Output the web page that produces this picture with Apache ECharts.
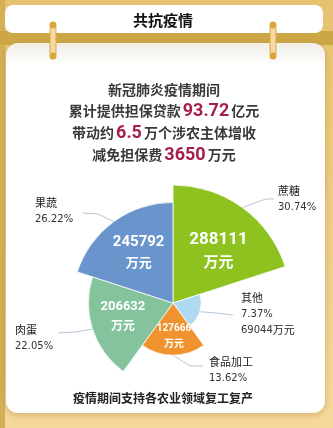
<!DOCTYPE html>
<html><head><meta charset="utf-8">
<script src="https://cdn.jsdelivr.net/npm/echarts@6/dist/echarts.min.js"></script>
<style>html,body{margin:0;padding:0;background:#EBC777;}#c{width:333px;height:428px;}</style>
</head><body><div id="c"></div>
<script>
const categories = ['蔗糖', '其他', '食品加工', '肉蛋', '果蔬'];
const values = [288111, 69044, 127666, 206632, 245792];
const percents = ['30.74%', '7.37%', '13.62%', '22.05%', '26.22%'];
const headlineNumbers = ['93.72', '6.5', '3650'];
const titleText = '共抗疫情';
const footText = '疫情期间支持各农业领域复工复产';

const colors = ['#8DC21F', '#AED9F0', '#F0922E', '#84C39C', '#6A95CC'];
const CJK = '"Noto Sans CJK SC", sans-serif';
// outside label boxes (top-left) and label-line elbows
const outerPos = [[278, 183], [241, 290], [209, 354], [15, 322], [35, 195]];
const elbows = [
  [[266, 199], [274, 199]],
  [[216, 313], [233, 315]],
  [[190, 366], [203, 366]],
  [[75, 332], [58, 333]],
  [[98, 214], [83, 213]]
];
const innerFont = [[17, 15], [0, 0], [10, 10], [13, 12], [15, 13]];
const innerShift = [[9, -3], [0, 0], [1, 4], [-7, -1], [-3, -8]];

const chart = echarts.init(document.getElementById('c'), null, {renderer: 'canvas'});

const pin = (x) => ([
  {type: 'rect', shape: {x: x - 3, y: 25, width: 6, height: 31, r: 3}, style: {fill: '#F6D9A6', stroke: '#D9A93A', lineWidth: 1}, z: 1},
  {type: 'circle', shape: {cx: x, cy: 25, r: 3.5}, style: {fill: '#D9A637'}, z: 2},
  {type: 'circle', shape: {cx: x, cy: 56, r: 3.5}, style: {fill: '#D9A637'}, z: 2}
]);

const headRich = {
  n: {fontFamily: 'Roboto, sans-serif', fontWeight: 'bold', fontSize: 18, fill: '#A61E4D', padding: [0, 2]}
};
const headStyle = (text, y) => ({
  type: 'text', x: 164, y: y, z: 3,
  style: {text: text, align: 'center', verticalAlign: 'middle', fontFamily: CJK, fontSize: 14, fontWeight: 'bold', fill: '#3a3a3a', rich: headRich}
});

const option = {
  animation: false,
  graphic: [
    {type: 'rect', shape: {x: 0, y: 0, width: 333, height: 428},
      style: {fill: new echarts.graphic.LinearGradient(0, 0, 0, 1, [{offset: 0, color: '#E6C170'}, {offset: 1, color: '#F6D89C'}])}, z: -10},
    {type: 'rect', shape: {x: 0, y: 0, width: 5, height: 428}, style: {fill: '#D4AF55'}, z: -9},
    {type: 'rect', shape: {x: 0, y: 31, width: 333, height: 14}, style: {fill: '#CBA746'}, z: -9},
    {type: 'rect', shape: {x: 5, y: 5, width: 318, height: 28, r: 8}, style: {fill: '#FFFFFF'}, z: -8},
    {type: 'rect', shape: {x: 6, y: 43, width: 319, height: 370, r: 12},
      style: {fill: new echarts.graphic.LinearGradient(0, 0, 0, 1, [{offset: 0, color: '#F1EEE7'}, {offset: 0.06, color: '#FFFFFF'}, {offset: 1, color: '#FFFFFF'}]),
        shadowBlur: 6, shadowColor: 'rgba(150,110,30,0.35)', shadowOffsetY: 2}, z: -8},
    ...pin(53), ...pin(273),
    {type: 'text', x: 163, y: 20, z: 3, style: {text: titleText, align: 'center', verticalAlign: 'middle', fontFamily: CJK, fontSize: 15, fontWeight: 'bold', fill: '#111'}},
    headStyle('新冠肺炎疫情期间', 90),
    headStyle('累计提供担保贷款{n|' + headlineNumbers[0] + '}亿元', 111),
    headStyle('带动约{n|' + headlineNumbers[1] + '}万个涉农主体增收', 133),
    headStyle('减免担保费{n|' + headlineNumbers[2] + '}万元', 155),
    {type: 'text', x: 163, y: 398, z: 3, style: {text: footText, align: 'center', verticalAlign: 'middle', fontFamily: CJK, fontSize: 12, fontWeight: 'bold', fill: '#222'}}
  ],
  series: [
    {
      type: 'pie', roseType: 'area', center: [173, 303], radius: [0, 118], startAngle: 90, clockwise: true,
      avoidLabelOverlap: false, silent: true,
      itemStyle: {borderColor: '#ffffff', borderWidth: 0.8},
      data: categories.map((c, i) => ({name: c, value: values[i], itemStyle: {color: colors[i]}})),
      label: {
        show: true, position: 'outside', lineHeight: 16,
        formatter: (p) => {
          let s = '{n|' + p.name + '}\n{p|' + percents[p.dataIndex] + '}';
          if (p.dataIndex === 1) s += '\n{v|' + values[1] + '}{n|万元}';
          return s;
        },
        rich: {
          n: {fontFamily: CJK, fontSize: 11, color: '#222', lineHeight: 16},
          p: {fontFamily: '"DejaVu Sans", sans-serif', fontSize: 10, color: '#333', lineHeight: 16},
          v: {fontFamily: '"DejaVu Sans", sans-serif', fontSize: 10, color: '#333', lineHeight: 16}
        }
      },
      labelLine: {show: true, lineStyle: {color: '#B9C7D6', width: 1}},
      labelLayout: function (p) {
        const i = p.dataIndex;
        const pts = p.labelLinePoints;
        const res = {x: outerPos[i][0], y: outerPos[i][1], align: 'left', verticalAlign: 'top'};
        if (pts && pts.length) res.labelLinePoints = [pts[0]].concat(elbows[i]);
        return res;
      }
    },
    {
      type: 'pie', roseType: 'area', center: [173, 303], radius: [0, 118], startAngle: 90, clockwise: true,
      avoidLabelOverlap: false, silent: true,
      itemStyle: {color: 'transparent'},
      data: categories.map((c, i) => ({
        name: c, value: values[i],
        label: {show: i !== 1, fontSize: innerFont[i][0],
          rich: {a: {fontFamily: 'Roboto, sans-serif', fontWeight: 'bold', fontSize: innerFont[i][0], color: '#fff', lineHeight: innerFont[i][0] + 5},
                 b: {fontFamily: CJK, fontWeight: 'bold', fontSize: innerFont[i][1], color: '#fff', lineHeight: innerFont[i][1] + 6}}}
      })),
      label: {
        show: true, position: 'inside', align: 'center',
        formatter: (p) => '{a|' + p.value + '}\n{b|万元}'
      },
      labelLine: {show: false},
      labelLayout: function (p) {
        const s = innerShift[p.dataIndex];
        return {dx: s[0], dy: s[1]};
      }
    }
  ]
};
chart.setOption(option);
</script></body></html>
